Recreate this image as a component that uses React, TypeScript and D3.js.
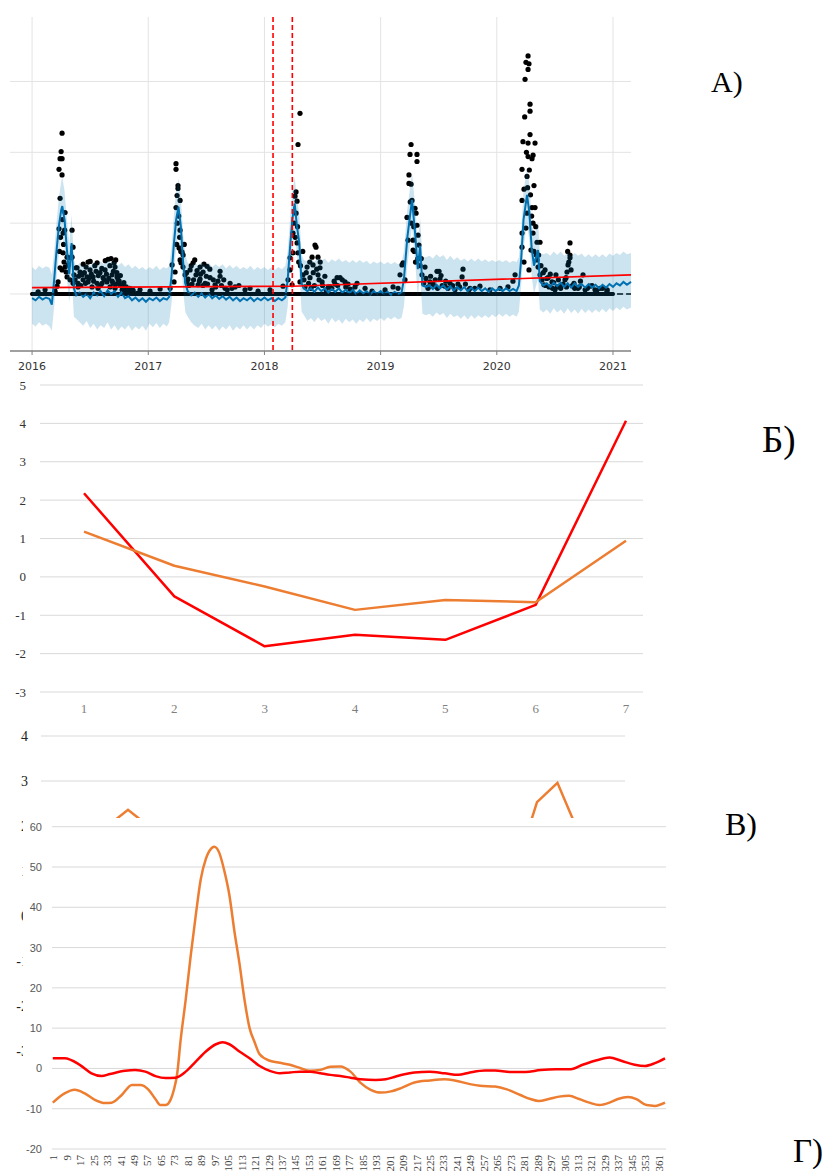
import React from 'react';
import * as d3 from 'd3';

// ---------------- Panel А (Prophet-style forecast) ----------------
const aYearTicks = [2016, 2017, 2018, 2019, 2020, 2021];
const aGridValues = [0, 100, 200, 300];
const aChangepoints = [2018.074, 2018.24];
const aTrend: [number, number][] = [[2016.0, 9], [2018.24, 11], [2021.155, 27]];
const aZeroObsRange: [number, number] = [2016.0, 2021.0];
// [years since 2016, yhat, lower, upper]
const aForecast: [number, number, number, number][] = [
  [0.00,-6,-42,38],[0.03,-9,-46,34],[0.06,-4,-40,40],[0.09,-8,-45,36],[0.12,-5,-42,39],[0.15,-7,-46,37],[0.17,-15,-52,28],
  [0.19,20,-18,60],[0.21,60,22,100],[0.23,95,55,135],[0.25,118,80,158],[0.26,124,86,165],[0.28,104,64,145],[0.30,62,22,104],[0.32,28,-12,70],[0.34,72,30,112],[0.36,8,-32,48],
  [0.38,-2,-35,38],[0.41,2,-40,44],[0.44,-4,-45,38],[0.47,0,-38,42],[0.50,-6,-48,40],[0.53,2,-42,45],[0.56,-2,-50,40],[0.59,4,-44,46],[0.62,-3,-48,42],[0.65,5,-40,47],[0.68,0,-50,44],[0.71,4,-44,46],[0.74,-4,-52,40],[0.77,2,-46,44],[0.80,-6,-50,38],[0.83,-3,-44,42],[0.86,-9,-52,36],[0.89,-5,-46,40],[0.92,-10,-50,35],[0.95,-6,-45,38],[0.98,-11,-52,34],
  [1.01,-6,-42,38],[1.04,-9,-47,35],[1.07,-5,-41,40],[1.10,-10,-48,34],[1.13,-6,-42,38],[1.16,-8,-46,36],[1.18,-4,-40,40],
  [1.20,25,-14,65],[1.22,70,30,110],[1.24,105,66,145],[1.26,123,84,163],[1.28,96,56,136],[1.30,45,5,85],[1.32,14,-26,54],[1.34,4,-32,44],
  [1.37,-2,-40,40],[1.40,2,-45,44],[1.43,-4,-48,40],[1.46,1,-42,45],[1.49,-5,-50,40],[1.52,0,-44,44],[1.55,-6,-50,38],[1.58,-2,-45,42],[1.61,-7,-52,38],[1.64,-3,-46,42],[1.67,-8,-50,36],[1.70,-4,-44,41],[1.73,-9,-52,36],[1.76,-5,-46,40],[1.79,-10,-50,35],[1.82,-6,-44,38],[1.85,-9,-50,35],[1.88,-5,-45,40],[1.91,-10,-50,34],[1.94,-6,-44,38],[1.97,-9,-48,35],
  [2.00,-5,-42,38],[2.03,-9,-46,34],[2.06,-6,-43,38],[2.09,-10,-47,34],[2.12,-6,-42,38],[2.15,-9,-45,35],[2.18,-5,-40,40],
  [2.20,20,-18,60],[2.22,65,25,105],[2.24,105,65,145],[2.26,128,88,165],[2.28,95,55,135],[2.30,72,32,112],[2.32,15,-25,55],[2.34,8,-30,48],
  [2.37,4,-38,46],[2.40,8,-34,50],[2.43,3,-40,45],[2.46,9,-33,52],[2.49,4,-38,47],[2.52,8,-35,50],[2.55,2,-42,44],[2.58,7,-34,49],[2.61,3,-40,46],[2.64,8,-36,50],[2.67,2,-42,45],[2.70,6,-35,48],[2.73,1,-40,44],[2.76,6,-36,48],[2.79,0,-42,44],[2.82,5,-36,48],[2.85,1,-40,44],[2.88,4,-34,47],[2.91,-1,-40,42],[2.94,4,-35,46],[2.97,0,-38,43],
  [3.00,4,-34,46],[3.03,0,-38,42],[3.06,3,-33,45],[3.09,-1,-36,42],[3.12,3,-32,45],[3.15,0,-36,42],[3.18,2,-34,44],
  [3.20,20,-18,60],[3.23,80,40,120],[3.27,133,95,171],[3.30,80,40,120],[3.32,35,-5,75],[3.34,68,28,108],[3.36,12,-28,52],[3.39,10,-30,52],
  [3.42,12,-28,54],[3.45,7,-32,50],[3.48,13,-26,56],[3.51,8,-30,52],[3.54,12,-27,55],[3.57,6,-34,48],[3.60,11,-28,54],[3.63,5,-33,48],[3.66,10,-30,52],[3.69,5,-35,47],[3.72,10,-30,50],[3.75,4,-36,46],[3.78,9,-30,50],[3.81,4,-35,46],[3.84,9,-30,50],[3.87,4,-34,46],[3.90,8,-30,49],[3.93,3,-34,45],[3.96,8,-29,48],[3.99,4,-33,45],
  [4.02,8,-28,48],[4.05,4,-32,45],[4.08,8,-28,48],[4.11,4,-32,44],[4.14,7,-29,47],[4.17,4,-32,45],[4.19,12,-25,52],
  [4.21,50,12,90],[4.23,105,65,145],[4.26,140,100,178],[4.28,115,75,155],[4.30,65,25,105],[4.32,40,0,80],[4.355,62,22,102],[4.37,18,-22,58],[4.40,12,-26,56],
  [4.43,15,-22,58],[4.46,10,-28,54],[4.49,16,-20,60],[4.52,11,-26,55],[4.55,16,-22,60],[4.58,10,-28,54],[4.61,15,-20,58],[4.64,9,-27,53],[4.67,15,-22,58],[4.70,10,-28,54],[4.73,14,-21,57],[4.76,9,-27,52],[4.79,14,-22,56],[4.82,9,-27,52],[4.85,13,-22,56],[4.88,8,-26,52],[4.91,13,-21,56],[4.94,9,-26,52],[4.97,14,-20,57],
  [5.00,10,-24,54],[5.03,15,-19,58],[5.06,12,-23,55],[5.09,17,-18,60],[5.12,13,-22,56],[5.155,17,-19,58],
];
// [years since 2016, observed value] (non-zero days)
const aObserved: [number, number][] = [
  [0.052,3],[0.112,6],[0.198,4],[0.215,11],[0.224,17],[0.232,176],[0.232,92],[0.241,191],[0.241,135],[0.241,37],[0.250,201],[0.258,227],[0.258,191],[0.258,168],[0.258,34],[0.267,86],[0.267,58],[0.275,45],[0.284,115],[0.284,38],[0.293,31],[0.301,52],[0.301,24],[0.310,41],[0.327,51],[0.327,20],[0.344,90],[0.344,52],[0.353,66],[0.353,15],[0.361,27],[0.379,37],[0.387,37],[0.396,15],[0.396,10],[0.413,31],[0.430,27],[0.439,20],[0.465,38],[0.473,24],[0.482,45],[0.482,17],[0.499,34],[0.516,10],[0.525,24],[0.551,32],[0.559,15],[0.568,8],[0.585,30],[0.602,15],[0.611,23],[0.628,34],[0.645,17],[0.654,49],[0.671,10],[0.688,27],[0.697,15],[0.706,44],[0.714,38],[0.714,8],[0.731,24],[0.740,20],[0.757,13],[0.775,6],[0.800,6],[0.826,3],[0.861,3],[0.904,1],[0.929,6],[1.015,4],[1.102,7],
  [0.236,60],[0.245,80],[0.262,105],[0.271,70],[0.280,90],
  [0.37,20],[0.40,25],[0.42,12],[0.45,30],[0.46,15],[0.49,22],[0.51,28],[0.53,18],[0.54,40],[0.57,26],[0.59,12],[0.60,36],[0.62,20],[0.64,28],[0.66,22],[0.67,40],[0.69,18],[0.70,32],[0.72,14],[0.73,30],[0.75,18],[0.76,26],[0.78,12],[0.79,16],[0.81,10],[0.84,8],[0.87,5],[0.44,42],[0.50,46],[0.56,44],[0.63,47],[0.68,50],[0.72,48],
  [1.188,8],[1.205,41],[1.222,17],[1.231,31],[1.239,184],[1.239,176],[1.239,122],[1.248,139],[1.256,153],[1.256,149],[1.265,65],[1.274,132],[1.274,90],[1.274,48],[1.282,44],[1.291,59],[1.299,38],[1.317,27],[1.334,17],[1.343,21],[1.360,34],[1.377,14],[1.386,44],[1.411,27],[1.429,13],[1.446,38],[1.446,21],[1.472,31],[1.489,15],[1.506,39],[1.532,23],[1.549,6],[1.575,13],[1.618,32],[1.618,25],[1.661,8],[1.704,15],[1.747,10],[1.833,6],[1.876,8],[1.945,4],[2.048,6],[2.160,11],
  [1.245,70],[1.250,100],[1.262,110],[1.270,80],[1.280,60],
  [1.33,30],[1.35,12],[1.37,40],[1.39,20],[1.40,48],[1.42,33],[1.44,18],[1.45,28],[1.47,12],[1.48,42],[1.50,25],[1.51,14],[1.53,35],[1.56,20],[1.58,10],[1.60,18],[1.63,12],[1.65,20],[1.68,6],[1.72,8],[1.78,12],[1.30,55],[1.31,70],
  [2.203,20],[2.220,51],[2.220,34],[2.238,13],[2.246,86],[2.246,58],[2.263,138],[2.272,144],[2.272,114],[2.281,131],[2.281,72],[2.289,211],[2.289,58],[2.306,255],[2.306,17],[2.332,27],[2.349,10],[2.367,38],[2.392,23],[2.401,8],[2.410,52],[2.418,41],[2.435,69],[2.444,66],[2.461,52],[2.461,27],[2.478,37],[2.496,17],[2.530,6],[2.565,10],[2.608,14],[2.625,23],[2.651,23],[2.694,17],[2.737,7],[2.797,15],[2.866,8],[2.926,4],[3.038,6],[3.107,10],
  [2.255,100],[2.265,80],[2.285,95],[2.295,45],
  [2.31,40],[2.33,60],[2.34,20],[2.36,30],[2.38,15],[2.39,45],[2.42,30],[2.43,12],[2.45,35],[2.47,20],[2.48,45],[2.50,12],[2.52,25],[2.55,10],[2.58,8],[2.60,18],[2.63,12],[2.67,20],[2.70,10],[2.72,14],[2.75,6],[2.78,10],
  [3.150,8],[3.167,27],[3.184,41],[3.193,44],[3.210,20],[3.227,108],[3.236,76],[3.244,168],[3.244,156],[3.253,197],[3.262,211],[3.262,155],[3.270,132],[3.279,76],[3.279,62],[3.296,121],[3.305,114],[3.313,197],[3.313,187],[3.313,97],[3.322,83],[3.330,69],[3.356,27],[3.382,38],[3.408,8],[3.425,17],[3.468,11],[3.485,32],[3.503,32],[3.511,21],[3.554,11],[3.597,15],[3.666,14],[3.701,24],[3.709,35],[3.769,8],[3.855,11],[3.941,6],[4.028,8],[4.096,10],
  [3.255,130],[3.265,100],[3.285,95],[3.290,60],[3.300,45],[3.320,50],
  [3.34,40],[3.35,50],[3.37,15],[3.39,22],[3.41,10],[3.43,25],[3.45,14],[3.47,20],[3.49,8],[3.52,26],[3.53,12],[3.56,18],[3.58,8],[3.62,12],[3.64,6],[3.68,10],[3.73,14],[3.76,6],[3.81,8],
  [4.139,18],[4.157,27],[4.217,176],[4.217,132],[4.217,86],[4.217,66],[4.225,215],[4.234,148],[4.234,45],[4.243,303],[4.251,327],[4.251,93],[4.260,166],[4.260,114],[4.269,336],[4.269,317],[4.269,213],[4.269,194],[4.277,325],[4.277,34],[4.286,268],[4.286,258],[4.286,225],[4.294,62],[4.303,191],[4.303,122],[4.312,196],[4.312,100],[4.312,86],[4.320,153],[4.329,213],[4.329,122],[4.346,73],[4.346,48],[4.355,38],[4.372,73],[4.372,27],[4.406,13],[4.415,34],[4.441,23],[4.475,17],[4.501,6],[4.509,27],[4.544,11],[4.587,20],[4.596,23],[4.604,31],[4.613,41],[4.630,72],[4.630,55],[4.630,51],[4.639,34],[4.664,15],[4.699,8],[4.742,27],[4.802,11],[4.845,6],[4.888,8],[4.948,4],
  [4.240,250],[4.255,200],[4.265,150],[4.280,175],[4.290,140],[4.300,110],[4.320,60],[4.335,95],[4.340,55],
  [4.36,55],[4.38,40],[4.39,20],[4.40,30],[4.42,12],[4.43,22],[4.45,10],[4.46,28],[4.48,8],[4.49,16],[4.52,10],[4.53,20],[4.55,8],[4.57,14],[4.60,10],[4.62,45],[4.61,60],[4.65,12],[4.67,8],[4.71,10],[4.72,18],[4.76,6],[4.78,8],[4.82,12],[4.86,5],[4.91,8],[4.95,6],
];

// ---------------- Panel Б ----------------
const bCategories = [1, 2, 3, 4, 5, 6, 7];
const bRed = [2.18, -0.51, -1.81, -1.51, -1.64, -0.73, 4.07];
const bOrange = [1.18, 0.29, -0.25, -0.86, -0.6, -0.66, 0.94];
const bTicks = [5, 4, 3, 2, 1, 0, -1, -2, -3];

// ---------------- Panel В (mostly hidden) ----------------
const vTicks = [4, 3, 2, 1, 0, -1, -2, -3];
const vOrange = [1.2, 1.5, 1.7, 2.0, 2.36, 2.0, 1.6, 1.3, 1.1, 1.0, 0.9, 0.8, 0.7, 0.6, 0.5, 0.6, 0.8, 1.0, 1.2, 1.3, 1.2, 1.1, 1.0, 1.09, 2.53, 2.96, 1.89, 1.5, 1.2];

// ---------------- Panel Г ----------------
const gTicks = [60, 50, 40, 30, 20, 10, 0, -10, -20];
const gRed: [number, number][] = [[1,2.5],[8,2.5],[17,0.9],[24,-1.2],[30,-1.9],[35,-1.4],[44,-0.6],[50,-0.4],[56,-0.8],[62,-1.9],[68,-2.4],[74,-2.3],[80,-0.8],[86,1.7],[92,4.2],[98,6.0],[102,6.5],[106,6.0],[112,4.2],[118,2.5],[124,0.6],[130,-0.6],[136,-1.2],[142,-1.0],[148,-0.8],[154,-0.8],[160,-1.2],[166,-1.6],[172,-1.9],[178,-2.3],[184,-2.7],[193,-2.9],[199,-2.7],[205,-2.0],[213,-1.2],[216,-1.0],[225,-0.8],[234,-1.2],[242,-1.6],[249,-1.0],[258,-0.5],[264,-0.5],[273,-0.9],[282,-0.9],[291,-0.4],[300,-0.2],[309,-0.2],[316,0.9],[325,2.1],[332,2.7],[339,1.9],[347,0.9],[353,0.6],[359,1.3],[365,2.5]];
const gOrange: [number, number][] = [[1,-8.5],[8,-6.2],[14,-5.3],[20,-6.2],[26,-7.8],[32,-8.6],[36,-8.5],[42,-6.6],[48,-4.1],[53,-4.1],[58,-5.3],[62,-7.6],[65,-9.1],[68,-9.1],[71,-7.8],[73,-5.3],[75,-1.2],[77,7],[80,17],[83,28],[86,38],[89,47],[92,52],[95,54.5],[97,55],[100,53.5],[103,49],[106,43],[109,34],[112,26],[115,17],[118,10],[121,6.5],[124,3.5],[130,1.9],[136,1.4],[142,0.9],[148,0.1],[154,-0.6],[160,-0.4],[166,0.4],[172,0.5],[178,-0.8],[184,-3.6],[190,-5.3],[196,-6.0],[202,-5.7],[208,-4.9],[216,-3.5],[225,-3.0],[234,-2.7],[240,-3.0],[249,-3.9],[255,-4.3],[264,-4.5],[271,-5.2],[279,-6.6],[285,-7.6],[290,-8.1],[296,-7.6],[302,-7.0],[308,-6.8],[314,-7.6],[320,-8.5],[326,-9.1],[332,-8.5],[337,-7.6],[343,-7.1],[348,-7.6],[354,-9.1],[359,-9.3],[365,-8.5]];
const gDayTicks = d3.range(1, 366, 8);

const SERIF = '"Liberation Serif", "Times New Roman", serif';
const SANS = '"Liberation Sans", Arial, sans-serif';
const RED = '#ff0000';
const ORANGE = '#ed7d31';
const GRID = '#d9d9d9';

export default function App() {
  // ---- Panel А scales
  const ax = d3.scaleLinear().domain([2015.81, 2021.155]).range([10, 631]);
  const ay = d3.scaleLinear().domain([-80.5, 391]).range([351, 17]);
  const fx = (t: number) => ax(2016 + t);
  const band = d3.area<[number, number, number, number]>().x(d => fx(d[0])).y0(d => ay(d[2])).y1(d => ay(d[3]));
  const yhatLine = d3.line<[number, number, number, number]>().x(d => fx(d[0])).y(d => ay(d[1]));
  const trendLine = d3.line<[number, number]>().x(d => ax(d[0])).y(d => ay(d[1]));
  const zeroDays = d3.range(aZeroObsRange[0], aZeroObsRange[1], 2 / 365.25);

  // ---- Panel Б scales
  const bx = d3.scalePoint<number>().domain(bCategories).range([84, 626]);
  const by = d3.scaleLinear().domain([-3, 5]).range([692, 385]);
  const bLine = d3.line<number>().x((_, i) => bx(bCategories[i]) as number).y(d => by(d));

  // ---- Panel В scales
  const vx = d3.scaleLinear().domain([0, 28]).range([46.2, 618.8]);
  const vy = d3.scaleLinear().domain([-3, 4]).range([1051, 736]);
  const vLine = d3.line<number>().x((_, i) => vx(i)).y(d => vy(d));

  // ---- Panel Г scales
  const gx = d3.scaleLinear().domain([1, 365]).range([52.8, 665]);
  const gy = d3.scaleLinear().domain([-20, 60]).range([1149, 826.7]);
  const gLine = d3.line<[number, number]>().x(d => gx(d[0])).y(d => gy(d[1])).curve(d3.curveMonotoneX);

  return (
    <svg width={826} height={1175} style={{ position: 'absolute', left: 0, top: 0, background: '#fff' }}>
      <rect x={0} y={0} width={826} height={1175} fill="#fff" />

      {/* ================= Panel А ================= */}
      <g>
        {aGridValues.map(v => (
          <line key={'ag' + v} x1={10} x2={631} y1={ay(v)} y2={ay(v)} stroke="#e3e3e3" strokeWidth={1} />
        ))}
        {aYearTicks.map(yr => (
          <line key={'av' + yr} x1={ax(yr)} x2={ax(yr)} y1={17} y2={351} stroke="#e3e3e3" strokeWidth={1} />
        ))}
        {zeroDays.map((t, i) => (
          <circle key={'z' + i} cx={ax(t)} cy={ay(0)} r={2.1} fill="#000" />
        ))}
        {aObserved.map((d, i) => (
          <circle key={'o' + i} cx={fx(d[0])} cy={ay(d[1])} r={2.6} fill="#000" />
        ))}
        <path d={yhatLine(aForecast) || ''} fill="none" stroke="#0072B2" strokeWidth={2} />
        <line x1={ax(2016)} x2={631} y1={ay(0)} y2={ay(0)} stroke="#000" strokeWidth={1.5} strokeDasharray="6,3" />
        <path d={band(aForecast) || ''} fill="#0072B2" fillOpacity={0.2} stroke="none" />
        <path d={trendLine(aTrend) || ''} fill="none" stroke={RED} strokeWidth={1.6} />
        {aChangepoints.map(c => (
          <line key={'cp' + c} x1={ax(c)} x2={ax(c)} y1={17} y2={351} stroke={RED} strokeWidth={1.6} strokeDasharray="5,3" />
        ))}
        <line x1={10} x2={631} y1={351} y2={351} stroke="#808080" strokeWidth={1.5} />
        {aYearTicks.map(yr => (
          <g key={'at' + yr}>
            <line x1={ax(yr)} x2={ax(yr)} y1={351} y2={355} stroke="#808080" strokeWidth={1} />
            <text x={ax(yr)} y={370} textAnchor="middle" fontFamily='"DejaVu Sans", sans-serif' fontSize={11} fill="#333">{yr}</text>
          </g>
        ))}
      </g>

      {/* ================= Panel Б ================= */}
      <g>
        {bTicks.map(v => (
          <g key={'bt' + v}>
            <line x1={40} x2={643} y1={by(v)} y2={by(v)} stroke={GRID} strokeWidth={1} />
            <text x={26} y={by(v) + 4.5} textAnchor="end" fontFamily={SERIF} fontSize={13} fill="#333">{v}</text>
          </g>
        ))}
        {bCategories.map(c => (
          <text key={'bx' + c} x={bx(c)} y={713} textAnchor="middle" fontFamily={SERIF} fontSize={13} fill="#7f7f7f">{c}</text>
        ))}
        <path d={bLine(bRed) || ''} fill="none" stroke={RED} strokeWidth={2.5} strokeLinejoin="round" />
        <path d={bLine(bOrange) || ''} fill="none" stroke={ORANGE} strokeWidth={2.5} strokeLinejoin="round" />
      </g>

      {/* ================= Panel В (partly covered) ================= */}
      <g>
        {vTicks.map(v => (
          <g key={'vt' + v}>
            <line x1={41} x2={625} y1={vy(v)} y2={vy(v)} stroke={GRID} strokeWidth={1} />
            <text x={28} y={vy(v) + 5} textAnchor="end" fontFamily={SERIF} fontSize={14} fill="#222">{v}</text>
          </g>
        ))}
        <path d={vLine(vOrange) || ''} fill="none" stroke={ORANGE} strokeWidth={2.5} strokeLinejoin="miter" />
      </g>

      {/* ================= Panel Г (covers В) ================= */}
      <g>
        <rect x={23} y={818} width={670} height={357} fill="#fff" />
        {gTicks.map(v => (
          <g key={'gt' + v}>
            <line x1={52} x2={666} y1={gy(v)} y2={gy(v)} stroke={GRID} strokeWidth={1} />
            <text x={42} y={gy(v) + 4} textAnchor="end" fontFamily={SANS} fontSize={11} fill="#595959">{v}</text>
          </g>
        ))}
        {gDayTicks.map(d => (
          <text key={'gx' + d} transform={`translate(${gx(d) + 0.5},1155) rotate(-90)`} textAnchor="end" dominantBaseline="central"
            fontFamily={SERIF} fontSize={11} fill="#404040">{d}</text>
        ))}
        <path d={gLine(gOrange) || ''} fill="none" stroke={ORANGE} strokeWidth={2.5} />
        <path d={gLine(gRed) || ''} fill="none" stroke={RED} strokeWidth={2.5} />
      </g>

      {/* ================= Panel letters ================= */}
      <text x={711} y={92} fontFamily={SERIF} fontSize={30} fill="#000">А)</text>
      <text x={762} y={452} fontFamily={SERIF} fontSize={37} fill="#000">Б)</text>
      <text x={725} y={835} fontFamily={SERIF} fontSize={32} fill="#000">В)</text>
      <text x={793} y={1162} fontFamily={SERIF} fontSize={33} fill="#000">Г)</text>
    </svg>
  );
}
